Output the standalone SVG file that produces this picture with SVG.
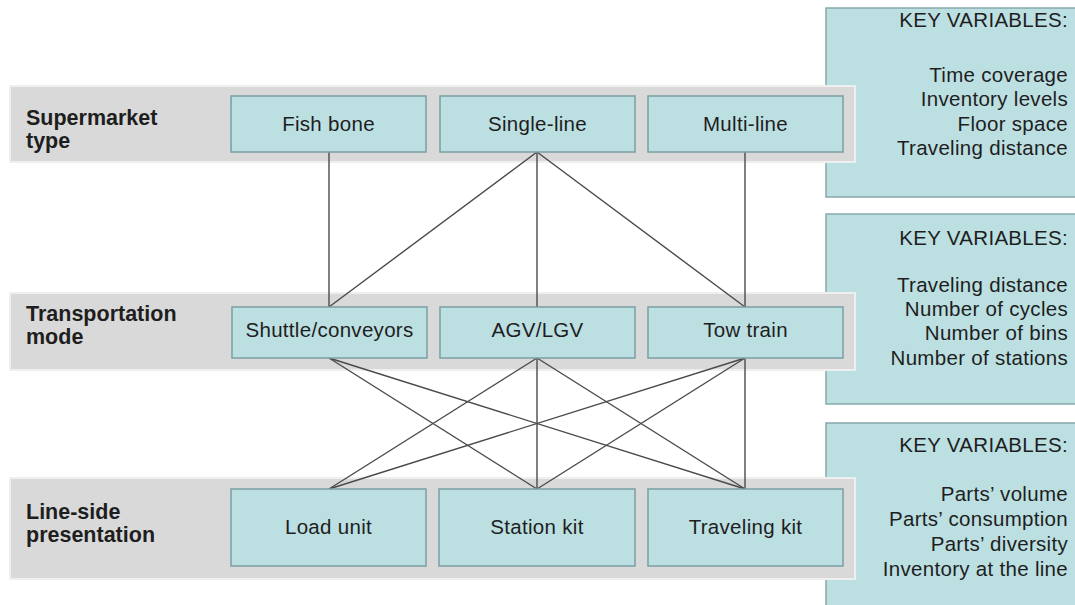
<svg xmlns="http://www.w3.org/2000/svg" width="1075" height="605" viewBox="0 0 1075 605">
  <style>
    text { font-family: "Liberation Sans", Arial, sans-serif; fill: #1e1e1e; font-size: 20.5px; letter-spacing: 0.3px; }
    .band { fill: #d9d9d9; stroke: #efefef; stroke-width: 2; }
    .key { fill: #bcdfe2; stroke: #86a9ac; stroke-width: 1.5; }
    .box { fill: #bcdfe2; stroke: #7b9fa2; stroke-width: 1.5; }
    .lbl { font-weight: bold; font-size: 21.5px; letter-spacing: 0; }
    .mid { text-anchor: middle; }
    .kv { text-anchor: end; }
    #connectors line { stroke: #4a4a4a; stroke-width: 1.4; }
  </style>

  <!-- key-variable panels (behind the level bands) -->
  <g id="key-supermarket">
    <rect class="key" x="826" y="8" width="260" height="189"/>
    <text class="kv" x="1068" y="27">KEY VARIABLES:</text>
    <text class="kv" x="1068" y="82">Time coverage</text>
    <text class="kv" x="1068" y="106">Inventory levels</text>
    <text class="kv" x="1068" y="131">Floor space</text>
    <text class="kv" x="1068" y="155">Traveling distance</text>
  </g>
  <g id="key-transport">
    <rect class="key" x="826" y="214" width="260" height="190"/>
    <text class="kv" x="1068" y="245">KEY VARIABLES:</text>
    <text class="kv" x="1068" y="292">Traveling distance</text>
    <text class="kv" x="1068" y="316">Number of cycles</text>
    <text class="kv" x="1068" y="340">Number of bins</text>
    <text class="kv" x="1068" y="365">Number of stations</text>
  </g>
  <g id="key-lineside">
    <rect class="key" x="826" y="423" width="260" height="195"/>
    <text class="kv" x="1068" y="452">KEY VARIABLES:</text>
    <text class="kv" x="1068" y="501">Parts’ volume</text>
    <text class="kv" x="1068" y="526">Parts’ consumption</text>
    <text class="kv" x="1068" y="551">Parts’ diversity</text>
    <text class="kv" x="1068" y="576">Inventory at the line</text>
  </g>

  <!-- level bands -->
  <g id="band-supermarket">
    <rect class="band" x="10" y="86" width="845" height="76"/>
    <text class="lbl" x="26" y="125">Supermarket</text>
    <text class="lbl" x="26" y="148">type</text>
  </g>
  <g id="band-transport">
    <rect class="band" x="10" y="293" width="845" height="77"/>
    <text class="lbl" x="26" y="321">Transportation</text>
    <text class="lbl" x="26" y="344">mode</text>
  </g>
  <g id="band-lineside">
    <rect class="band" x="10" y="478" width="845" height="101"/>
    <text class="lbl" x="26" y="519">Line-side</text>
    <text class="lbl" x="26" y="542">presentation</text>
  </g>

  <!-- connectors -->
  <g id="connectors">
    <line x1="329" y1="152" x2="329" y2="307"/>
    <line x1="537" y1="152" x2="329" y2="307"/>
    <line x1="537" y1="152" x2="537" y2="307"/>
    <line x1="537" y1="152" x2="745" y2="307"/>
    <line x1="745" y1="152" x2="745" y2="307"/>

    <line x1="329" y1="358" x2="537" y2="489"/>
    <line x1="329" y1="358" x2="745" y2="489"/>
    <line x1="537" y1="358" x2="329" y2="489"/>
    <line x1="537" y1="358" x2="537" y2="489"/>
    <line x1="537" y1="358" x2="745" y2="489"/>
    <line x1="745" y1="358" x2="329" y2="489"/>
    <line x1="745" y1="358" x2="537" y2="489"/>
    <line x1="745" y1="358" x2="745" y2="489"/>
  </g>

  <!-- supermarket types -->
  <g id="fish-bone">
    <rect class="box" x="231" y="96" width="195" height="56"/>
    <text class="mid" x="328.5" y="131">Fish bone</text>
  </g>
  <g id="single-line">
    <rect class="box" x="440" y="96" width="195" height="56"/>
    <text class="mid" x="537.5" y="131">Single-line</text>
  </g>
  <g id="multi-line">
    <rect class="box" x="648" y="96" width="195" height="56"/>
    <text class="mid" x="745.5" y="131">Multi-line</text>
  </g>

  <!-- transportation modes -->
  <g id="shuttle">
    <rect class="box" x="232" y="307" width="195" height="51"/>
    <text class="mid" x="329.5" y="337">Shuttle/conveyors</text>
  </g>
  <g id="agv">
    <rect class="box" x="440" y="307" width="195" height="51"/>
    <text class="mid" x="537.5" y="337">AGV/LGV</text>
  </g>
  <g id="tow-train">
    <rect class="box" x="648" y="307" width="195" height="51"/>
    <text class="mid" x="745.5" y="337">Tow train</text>
  </g>

  <!-- line-side presentation -->
  <g id="load-unit">
    <rect class="box" x="231" y="489" width="195" height="77"/>
    <text class="mid" x="328.5" y="534">Load unit</text>
  </g>
  <g id="station-kit">
    <rect class="box" x="439" y="489" width="196" height="77"/>
    <text class="mid" x="537" y="534">Station kit</text>
  </g>
  <g id="traveling-kit">
    <rect class="box" x="648" y="489" width="195" height="77"/>
    <text class="mid" x="745.5" y="534">Traveling kit</text>
  </g>
</svg>
